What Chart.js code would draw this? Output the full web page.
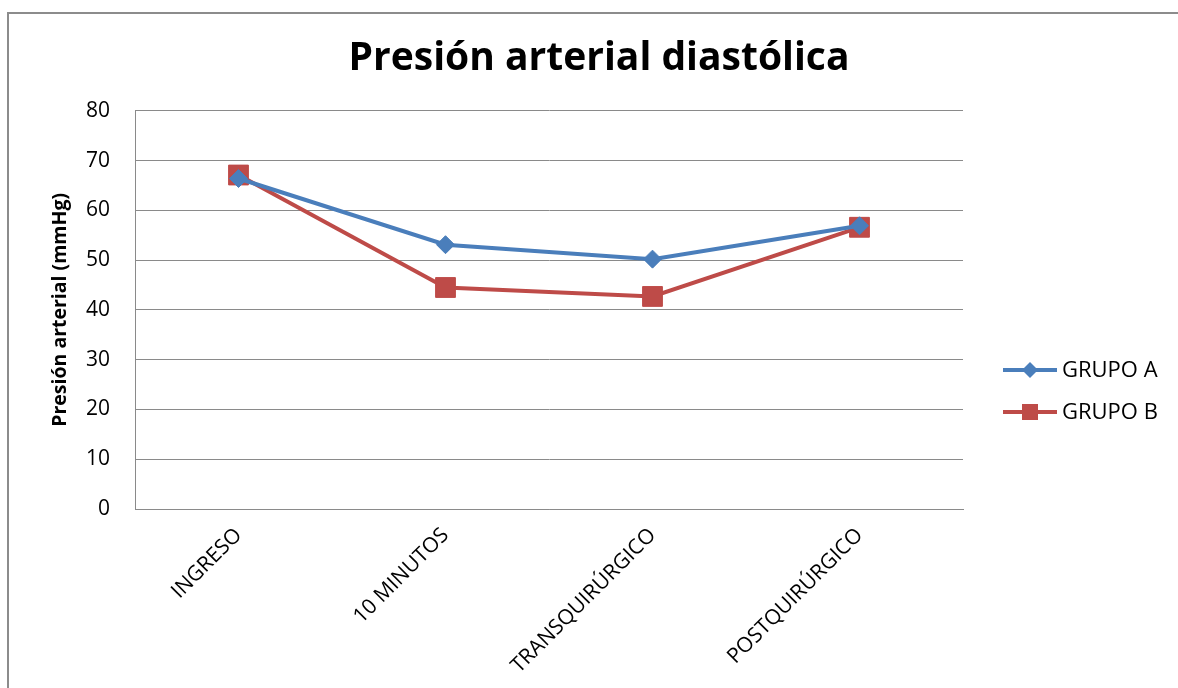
<!DOCTYPE html>
<html>
<head>
<meta charset="utf-8">
<script src="https://cdn.jsdelivr.net/npm/chart.js@4/dist/chart.umd.min.js"></script>
<style>
  html, body { margin: 0; padding: 0; background: #fff; }
  #wrap { width: 1178px; height: 688px; position: relative; }
</style>
</head>
<body>
<div id="wrap"><canvas id="c" width="1178" height="688"></canvas></div>
<script>
// Diastolic blood pressure by moment of measurement
const categories = ['INGRESO', '10 MINUTOS', 'TRANSQUIRÚRGICO', 'POSTQUIRÚRGICO'];
const grupoA = [66.4, 53.1, 50.2, 56.9];
const grupoB = [67.1, 44.5, 42.7, 56.6];
const yTicks = [0, 10, 20, 30, 40, 50, 60, 70, 80];

const FONT = "'Open Sans', 'DejaVu Sans', sans-serif";
const BLUE = '#4A7EBB';
const RED = '#BE4B48';
const GRID = '#8A8A8A';

// Outer frame of the chart object
const framePlugin = {
  id: 'frame',
  beforeDraw(chart) {
    const ctx = chart.ctx;
    ctx.save();
    ctx.fillStyle = '#fff';
    ctx.fillRect(0, 0, chart.width, chart.height);
    ctx.strokeStyle = '#8C8C8C';
    ctx.lineWidth = 2;
    ctx.beginPath();
    ctx.moveTo(8, chart.height + 5);
    ctx.lineTo(8, 13);
    ctx.lineTo(chart.width + 5, 13);
    ctx.stroke();
    ctx.restore();
  }
};

// Legend entries: line sample with the series marker, then the label
const lineLegend = {
  id: 'lineLegend',
  afterDraw(chart) {
    const ctx = chart.ctx;
    const x0 = chart.chartArea.right + 40;
    const yStart = 370;
    const gap = 42;
    ctx.save();
    chart.data.datasets.forEach((ds, i) => {
      const y = yStart + i * gap;
      ctx.strokeStyle = ds.borderColor;
      ctx.lineWidth = 4;
      ctx.beginPath();
      ctx.moveTo(x0, y);
      ctx.lineTo(x0 + 54, y);
      ctx.stroke();
      ctx.fillStyle = ds.backgroundColor;
      ctx.beginPath();
      if (ds.pointStyle === 'rect') {
        ctx.rect(x0 + 27 - 8, y - 8, 16, 16);
      } else {
        ctx.moveTo(x0 + 27, y - 8);
        ctx.lineTo(x0 + 35, y);
        ctx.lineTo(x0 + 27, y + 8);
        ctx.lineTo(x0 + 19, y);
        ctx.closePath();
      }
      ctx.fill();
      ctx.fillStyle = '#000';
      ctx.font = '22px ' + FONT;
      ctx.textBaseline = 'middle';
      ctx.textAlign = 'left';
      ctx.fillText(ds.label, x0 + 59, y + 1);
    });
    ctx.restore();
  }
};

new Chart(document.getElementById('c'), {
  type: 'line',
  data: {
    labels: categories,
    datasets: [
      {
        label: 'GRUPO A',
        data: grupoA,
        borderColor: BLUE,
        backgroundColor: BLUE,
        borderWidth: 4,
        pointStyle: 'rectRot',
        pointRadius: 9,
        pointBorderWidth: 1,
        tension: 0
      },
      {
        label: 'GRUPO B',
        data: grupoB,
        borderColor: RED,
        backgroundColor: RED,
        borderWidth: 4,
        pointStyle: 'rect',
        pointRadius: 14,
        pointBorderWidth: 1,
        tension: 0
      }
    ]
  },
  options: {
    responsive: false,
    animation: false,
    layout: { padding: { left: 20, right: 0, top: 0, bottom: 0 } },
    plugins: {
      legend: { display: false },
      tooltip: { enabled: false },
      title: {
        display: true,
        text: 'Presión arterial diastólica',
        color: '#000',
        font: { family: FONT, size: 39, weight: 'bold', lineHeight: 1.2 },
        padding: { top: 35, bottom: 29 }
      }
    },
    scales: {
      x: {
        offset: true,
        grid: { display: false, drawTicks: false },
        border: { display: true, color: GRID, width: 1 },
        ticks: {
          color: '#000',
          font: { family: FONT, size: 21 },
          minRotation: 45,
          maxRotation: 45,
          padding: 14,
          autoSkip: false
        },
        afterFit(scale) { scale.height = 179; }
      },
      y: {
        min: 0,
        max: 80,
        afterBuildTicks(scale) { scale.ticks = yTicks.map(v => ({ value: v })); },
        grid: { color: GRID, lineWidth: 1, drawTicks: false },
        border: { display: true, color: GRID, width: 1 },
        ticks: {
          color: '#000',
          font: { family: FONT, size: 21 },
          padding: 25
        },
        title: {
          display: true,
          text: 'Presión arterial (mmHg)',
          color: '#000',
          font: { family: FONT, size: 19.5, weight: 'bold', lineHeight: 1.2 },
          padding: { top: 29, bottom: 0 }
        },
        afterFit(scale) { scale.width = 115; }
      },
      // empty band on the right that holds the legend
      side: {
        position: 'right',
        display: true,
        grid: { display: false, drawTicks: false },
        border: { display: false },
        ticks: { display: false },
        afterFit(scale) { scale.width = 1178 - 963; }
      }
    }
  },
  plugins: [framePlugin, lineLegend]
});
</script>
</body>
</html>
